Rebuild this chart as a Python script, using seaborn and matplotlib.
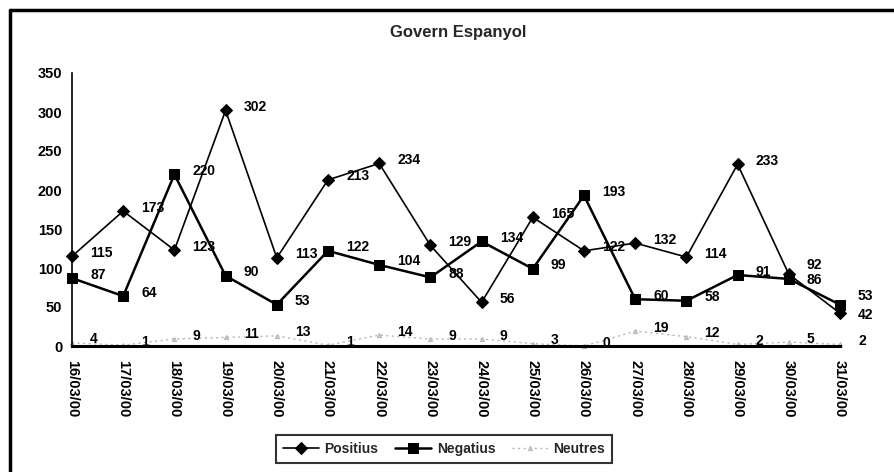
import numpy as np
import pandas as pd
import matplotlib
matplotlib.use("Agg")
import matplotlib.pyplot as plt
from matplotlib.lines import Line2D
import seaborn as sns

# Daily counts of news items about the Spanish government, March 2000
dates = ["16/03/00", "17/03/00", "18/03/00", "19/03/00", "20/03/00", "21/03/00",
         "22/03/00", "23/03/00", "24/03/00", "25/03/00", "26/03/00", "27/03/00",
         "28/03/00", "29/03/00", "30/03/00", "31/03/00"]
positius = [115, 173, 123, 302, 113, 213, 234, 129, 56, 165, 122, 132, 114, 233, 92, 42]
negatius = [87, 64, 220, 90, 53, 122, 104, 88, 134, 99, 193, 60, 58, 91, 86, 53]
neutres = [4, 1, 9, 11, 13, 1, 14, 9, 9, 3, 0, 19, 12, 2, 5, 2]
y_ticks = [0, 50, 100, 150, 200, 250, 300, 350]

sns.set_theme(style="white")
plt.rcParams["font.family"] = ["Liberation Sans", "DejaVu Sans"]
plt.rcParams["font.weight"] = "bold"

W, H = 895, 472
fig = plt.figure(figsize=(W / 100, H / 100), dpi=100)
ax = fig.add_axes([72 / W, 1 - 346 / H, (840 - 72) / W, (346 - 73) / H])

df = pd.DataFrame({"pos": np.arange(len(dates)), "date": dates,
                   "Positius": positius, "Negatius": negatius, "Neutres": neutres})

sns.lineplot(data=df, x="pos", y="Neutres", ax=ax, color="#b5b5b5", lw=1.0,
             linestyle=(0, (1.5, 2.5)), marker="^", markersize=3,
             markeredgecolor="#b5b5b5", markerfacecolor="#d0d0d0",
             label="Neutres", clip_on=False, zorder=2)
sns.lineplot(data=df, x="pos", y="Negatius", ax=ax, color="black", lw=1.8,
             marker="s", markersize=7, markeredgecolor="black",
             label="Negatius", clip_on=False, zorder=3)
sns.lineplot(data=df, x="pos", y="Positius", ax=ax, color="black", lw=1.2,
             marker="D", markersize=6, markeredgecolor="black",
             label="Positius", clip_on=False, zorder=4)

# Value labels to the right of each point; the last two days are crowded,
# so those labels are nudged apart vertically
nudge = {("Positius", 14): 4.5, ("Negatius", 14): -3.0,
         ("Positius", 15): -3.5, ("Negatius", 15): 4.0}
for col in ["Positius", "Negatius", "Neutres"]:
    for i, v in enumerate(df[col]):
        dy = 2.5 + nudge.get((col, i), 0.0)
        ax.annotate(str(v), (i, v), xytext=(13, dy), textcoords="offset points",
                    ha="left", va="center", fontsize=10, fontweight="bold",
                    color="black", annotation_clip=False, zorder=5)

ax.set_xlim(0, len(dates) - 1)
ax.set_ylim(0, 350)
ax.set_yticks(y_ticks)
ax.set_yticklabels([str(t) for t in y_ticks], fontsize=10.5, fontweight="bold")
ax.set_xticks(df["pos"])
ax.set_xticklabels(dates, rotation=-90, fontsize=10.5, fontweight="bold",
                   ha="center", va="top")
ax.set_xlabel("")
ax.set_ylabel("")
ax.tick_params(axis="both", direction="inout", length=8, width=1.2,
               colors="black", labelcolor="black")
ax.tick_params(axis="y", pad=3)
ax.tick_params(axis="x", pad=6)
ax.grid(False)
for s in ["top", "right"]:
    ax.spines[s].set_visible(False)
ax.spines["left"].set_color("black")
ax.spines["left"].set_linewidth(1.2)
ax.spines["bottom"].set_color("black")
ax.spines["bottom"].set_linewidth(2.2)
ax.patch.set_alpha(0)

# Legend in the order Positius, Negatius, Neutres
handles, labels = ax.get_legend_handles_labels()
order = [labels.index(n) for n in ["Positius", "Negatius", "Neutres"]]
leg = ax.legend([handles[k] for k in order], [labels[k] for k in order],
                loc="center", bbox_to_anchor=(444 / W, 1 - 449 / H),
                bbox_transform=fig.transFigure, ncol=3, frameon=True,
                fancybox=False, edgecolor="black", fontsize=10,
                handlelength=2.6, columnspacing=1.2, handletextpad=0.4,
                borderpad=0.5)
leg.get_frame().set_linewidth(1.5)
for t in leg.get_texts():
    t.set_fontweight("bold")

fig.text(458 / W, 1 - 33 / H, "Govern Espanyol", ha="center", va="center",
         fontsize=12, fontweight="bold")

# Outer frame (top and left edges)
fig.add_artist(Line2D([10 / W, 1], [1 - 10 / H, 1 - 10 / H],
                      transform=fig.transFigure, color="black", lw=2.5))
fig.add_artist(Line2D([10 / W, 10 / W], [0, 1 - 10 / H],
                      transform=fig.transFigure, color="black", lw=2.5))

fig.savefig("out.png", dpi=100, facecolor="white")
